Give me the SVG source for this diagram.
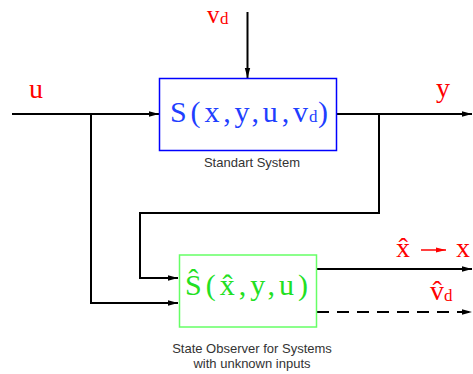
<svg xmlns="http://www.w3.org/2000/svg" width="473" height="374" viewBox="0 0 473 374">
<style>
.wire{fill:none;stroke:#000;stroke-width:2}
.math{font-family:"Liberation Serif","Times New Roman",serif}
.lbl{fill:#ff0000;font-family:"Liberation Serif","Times New Roman",serif;font-size:28px}
.sub{fill:#ff0000;font-family:"Liberation Serif","Times New Roman",serif;font-size:17px}
.cap{fill:#333;font-family:"Liberation Sans",Arial,sans-serif;font-size:13px;text-anchor:middle}
</style>
<defs>
<marker id="ah" markerUnits="userSpaceOnUse" markerWidth="10" markerHeight="7" refX="10" refY="3.5" orient="auto">
<path d="M0,0.8 L10,3.5 L0,6.2 z" fill="#000"/>
</marker>
<marker id="rah" markerUnits="userSpaceOnUse" markerWidth="10" markerHeight="7" refX="10" refY="3.5" orient="auto">
<path d="M0,1 L10,3.5 L0,6 z" fill="#ff0000"/>
</marker>
</defs>
<rect width="473" height="374" fill="#fff"/>
<g id="connectors">
<path class="wire" d="M12,114 H159" marker-end="url(#ah)"/>
<path class="wire" d="M91,114 V303 H178" marker-end="url(#ah)"/>
<path class="wire" d="M247.5,12 V78" marker-end="url(#ah)"/>
<path class="wire" d="M336,114 H472" marker-end="url(#ah)"/>
<path class="wire" d="M379,114 V213 H140 V278 H178" marker-end="url(#ah)"/>
<path class="wire" d="M317,269 H472" marker-end="url(#ah)"/>
<path class="wire" d="M317,312 H472" stroke-dasharray="12,8" marker-end="url(#ah)"/>
</g>
<g id="system">
<rect x="159.5" y="78.5" width="177" height="72" fill="none" stroke="#0000ff" stroke-width="1.5"/>
<text class="math" x="170" y="122" font-size="30" fill="#1f3fff" textLength="138" lengthAdjust="spacing">S(x,y,u,v</text>
<text class="math" x="309" y="122" font-size="17" fill="#1f3fff">d</text>
<text class="math" x="318" y="122" font-size="30" fill="#1f3fff">)</text>
<text class="cap" x="252" y="167">Standart System</text>
</g>
<g id="observer">
<rect x="179.5" y="255" width="137" height="72" fill="none" stroke="#66ff66" stroke-width="1.5"/>
<text class="math" x="185" y="295" font-size="30" fill="#22e022" textLength="123" lengthAdjust="spacing">Ŝ(x̂,y,u)</text>
<text class="cap" x="252" y="353">State Observer for Systems</text>
<text class="cap" x="252" y="368">with unknown inputs</text>
</g>
<g id="labels">
<text class="lbl" x="29" y="98">u</text>
<text class="lbl" x="207" y="23" style="font-size:25px">v</text>
<text class="sub" x="220" y="24">d</text>
<text class="lbl" x="436" y="97">y</text>
<text class="lbl" x="396" y="257">x̂</text>
<line x1="421" y1="250" x2="446" y2="250" stroke="#ff0000" stroke-width="1.5" marker-end="url(#rah)"/>
<text class="lbl" x="456" y="257">x</text>
<text class="lbl" x="430" y="300">v̂</text>
<text class="sub" x="444" y="301">d</text>
</g>
</svg>
